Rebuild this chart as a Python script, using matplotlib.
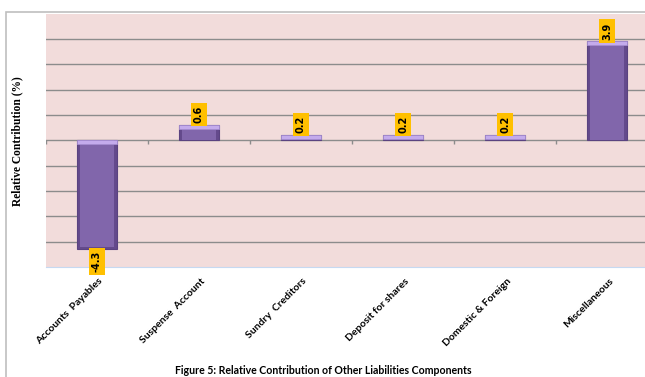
import numpy as np
import matplotlib.pyplot as plt
from matplotlib.patches import Rectangle

categories = ['Accounts  Payables', 'Suspense  Account', 'Sundry  Creditors',
              'Deposit for shares', 'Domestic & Foreign', 'Miscellaneous']
values = [-4.3, 0.6, 0.2, 0.2, 0.2, 3.9]
labels = ['-4.3', '0.6', '0.2', '0.2', '0.2', '3.9']

W, H = 645, 377
fig = plt.figure(figsize=(W / 100, H / 100), dpi=100)

# chart frame
fig.patches.append(Rectangle((6 / W, -0.1), 1.2, 1 - 12 / H + 0.1, transform=fig.transFigure,
                             fill=False, edgecolor='#bfbfbf', lw=1.2, zorder=0))

left, right, top, bottom = 46, 658, 13.5, 267
ax = fig.add_axes([left / W, 1 - bottom / H, (right - left) / W, (bottom - top) / H])
ax.set_facecolor('#f2dcdb')
ax.set_xlim(-0.5, 5.5)
ax.set_ylim(-5, 5)
for s in ['top', 'left', 'right']:
    ax.spines[s].set_visible(False)
ax.spines['bottom'].set_color('#c6d9f1')
ax.set_xticks([])
ax.set_yticks([])

for yv in range(-4, 5):
    ax.axhline(yv, color='#8c8c8c', lw=1, zorder=1)

x = np.arange(len(values))
ax.vlines(np.arange(-0.5, 5.6, 1.0), -0.13, 0, color='#8c8c8c', lw=1, zorder=1)

vals = np.array(values)
bev = 0.16
# bevelled bars: dark frame, lighter body, pale top strip
ax.bar(x, vals, width=0.4, color='#644a8c', edgecolor='#5a4380', lw=0.8, zorder=3)
ax.bar(x, vals - np.sign(vals) * 0.1, bottom=np.where(vals > 0, 0, -0.0), width=0.33,
       color='#8166ab', lw=0, zorder=3.5)
ax.bar(x, np.full_like(vals, bev), bottom=np.where(vals > 0, vals - bev, -bev),
       width=0.4, color='#c4abec', edgecolor='#a58cd0', lw=0.6, zorder=4)

for xi, v, t in zip(x, values, labels):
    pos = v > 0
    ax.text(xi, v + (0.07 if pos else -0.07), t, rotation=90, ha='center',
            va='bottom' if pos else 'top', fontsize=7, fontweight='bold',
            family='DejaVu Sans', zorder=5,
            bbox=dict(boxstyle='square,pad=0.3', fc='#ffc000', ec='none'))

for xi, c in zip(x, categories):
    ax.annotate(c, (xi, -5), xytext=(1, -7), textcoords='offset points',
                rotation=45, ha='right', va='top', rotation_mode='anchor',
                fontsize=7.5, family='Lato', fontweight='bold', annotation_clip=False)

fig.text(17 / W, 1 - 141 / H, 'Relative Contribution (%)', rotation=90, ha='center', va='center',
         fontsize=8.3, family='Liberation Serif', fontweight='bold')

fig.text(323 / W, 1 / H, 'Figure 5: Relative Contribution of Other Liabilities Components',
         ha='center', va='bottom', fontsize=7.6, family='Lato', fontweight='bold')

fig.savefig('out.png', dpi=100)
